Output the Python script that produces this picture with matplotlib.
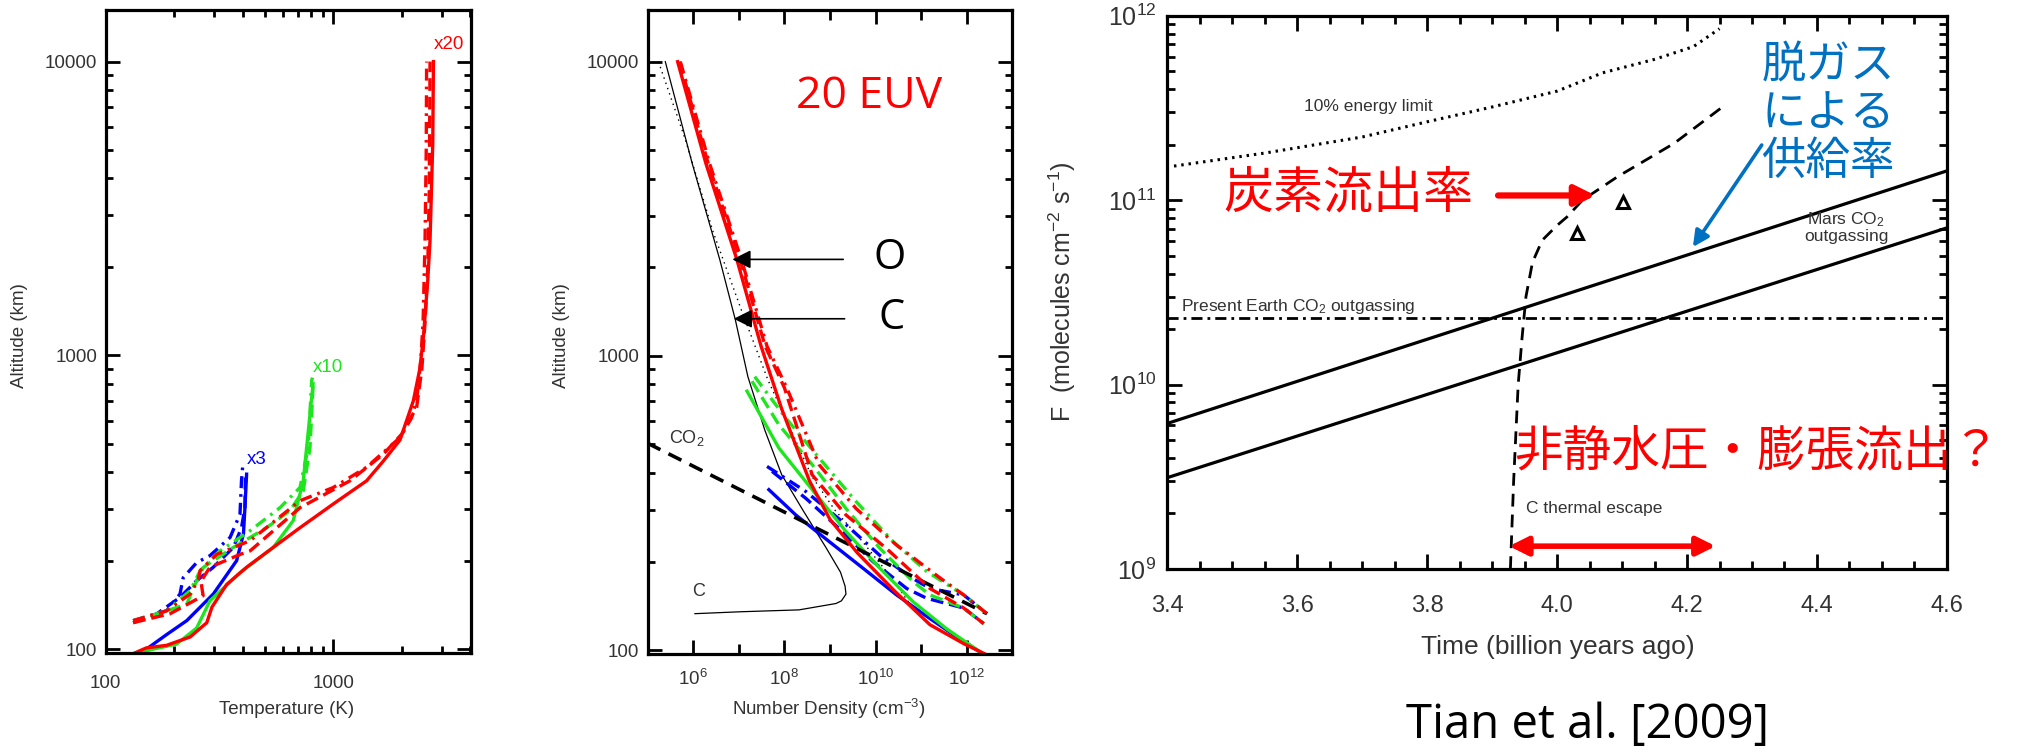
import numpy as np
import matplotlib.pyplot as plt
from matplotlib.ticker import FixedLocator, NullFormatter, FuncFormatter, MultipleLocator, LogLocator, LogFormatterSciNotation

plt.rcParams['font.family'] = ['Liberation Sans', 'Noto Sans CJK JP', 'DejaVu Sans']
plt.rcParams['mathtext.fontset'] = 'custom'
plt.rcParams['mathtext.rm'] = 'Liberation Sans'
plt.rcParams['mathtext.it'] = 'Liberation Sans:italic'
plt.rcParams['mathtext.bf'] = 'Liberation Sans:bold'

W, H = 2024, 753
RED, GREEN, BLUE = '#ff0000', '#1ee61e', '#0000ff'
GRAY = '#333333'
DASH = (0, (3.8, 1.8))
DASHDOT = (0, (3.6, 1.8, 0.8, 1.8))

# ---- 左: 温度プロファイル (T [K], 高度 [km])
T20_solid = [130, 151, 185, 235, 278, 293, 340, 416, 545, 714, 1000, 1400, 1660, 1963, 2247, 2400, 2490, 2600, 2661, 2735, 2754]
Z20_solid = [96, 101, 103, 110, 123, 139, 166, 190, 222, 259, 312, 374, 437, 515, 700, 900, 1162, 1800, 2467, 5236, 10000]
T20_dash = [132, 192, 240, 268, 262, 287, 389, 431, 714, 1183, 1660, 2000, 2323, 2450, 2530, 2600, 2640, 2661]
Z20_dash = [123, 132, 145, 152, 170, 190, 210, 216, 303, 374, 461, 540, 665, 900, 1300, 2000, 3600, 10000]
T20_dd = [132, 185, 235, 255, 260, 307, 431, 714, 1000, 1400, 1963, 2200, 2323, 2420, 2480, 2530, 2560, 2570]
Z20_dd = [125, 135, 154, 172, 185, 210, 234, 320, 355, 416, 525, 610, 702, 950, 1300, 2500, 5000, 10000]

T10_solid = [130, 162, 205, 251, 287, 389, 545, 667, 738, 790, 815]
Z10_solid = [96, 100, 104, 118, 146, 182, 222, 274, 374, 631, 800]
T10_dash = [132, 168, 227, 243, 269, 364, 509, 645, 738, 790, 817]
Z10_dash = [123, 132, 142, 162, 190, 222, 259, 296, 346, 486, 820]
T10_dd = [132, 185, 235, 260, 318, 431, 583, 714, 776, 803, 810]
Z10_dd = [125, 135, 158, 185, 216, 253, 303, 355, 486, 820, 840]

T3_solid = [151, 185, 227, 297, 376, 403, 409, 416]
Z3_solid = [100, 112, 125, 154, 200, 247, 303, 394]
T3_dash = [132, 168, 212, 251, 297, 364, 395, 409, 411]
Z3_dash = [123, 132, 150, 171, 190, 222, 259, 303, 384]
T3_dd = [132, 185, 212, 219, 251, 287, 352, 389, 395, 400]
Z3_dd = [125, 135, 154, 175, 197, 208, 240, 288, 374, 421]

# ---- 中: 数密度 (log10 n [cm-3], 高度 [km])
logn_C = [5.39, 5.98, 6.585, 6.925, 7.2, 7.57, 7.94, 8.40, 8.92, 9.23, 9.33, 9.35, 9.25, 9.13, 8.32, 7.04, 6.04]
zC = [10000, 4508, 2122, 1327, 850, 560, 395, 300, 222, 184, 165, 155, 147, 144, 137, 135, 133]
logn_dot = [5.24, 5.83, 6.43, 7.04, 7.64, 8.17, 8.6, 9.1, 9.7, 10.3, 10.8]
z_dot = [10000, 5436, 2661, 1456, 828, 548, 390, 300, 235, 180, 140]
logn_co2 = [5.0, 8.61, 12.44]
z_co2 = [505, 264, 133]

logn_r_solid = [5.66, 6.28, 6.96, 7.49, 7.94, 8.55, 9.0, 9.6, 10.43, 11.19, 11.94, 12.40]
z_r_solid = [10000, 4508, 2122, 1078, 661, 376, 278, 214, 158, 122, 105, 97]
logn_r_dash = [5.70, 6.33, 7.03, 7.58, 8.00, 8.61, 9.35, 10.23, 11.19, 11.93, 12.37]
z_r_dash = [10000, 4508, 2122, 1078, 780, 394, 288, 222, 162, 139, 123]
logn_r_dd = [5.72, 6.36, 7.06, 7.62, 8.05, 8.76, 9.57, 10.45, 11.41, 11.93, 12.44]
z_r_dd = [10000, 4508, 2122, 1078, 780, 427, 303, 228, 176, 154, 133]

logn_g_solid = [7.18, 7.88, 8.61, 9.35, 10.09, 10.82, 11.56, 12.4]
z_g_solid = [759, 486, 351, 253, 190, 146, 118, 96]
logn_g_dash = [7.29, 7.88, 8.61, 9.35, 10.09, 10.82, 11.19, 11.93, 12.37]
z_g_dash = [820, 583, 427, 303, 222, 171, 154, 139, 123]
logn_g_dd = [7.35, 8.03, 8.76, 9.57, 10.38, 11.12, 11.93, 12.44]
z_g_dd = [850, 615, 450, 320, 234, 185, 154, 133]

logn_b_solid = [7.66, 8.25, 8.98, 9.72, 10.46, 11.19, 11.93, 12.4]
z_b_solid = [351, 288, 234, 190, 154, 128, 107, 96]
logn_b_dash = [7.73, 8.47, 9.2, 9.94, 10.68, 11.12, 11.93, 12.37]
z_b_dash = [405, 328, 259, 200, 162, 150, 139, 123]
logn_b_dd = [7.62, 8.47, 9.35, 10.09, 10.82, 11.19, 11.93, 12.44]
z_b_dd = [421, 346, 267, 210, 175, 162, 154, 133]

# 矢印 (O, C): 先端と根元の log10 n, 高度
arrow_O = [6.86, 9.29, 2128]
arrow_C = [6.89, 9.32, 1337]

# ---- 右: フラックス vs 時間
energy_t = [3.41, 3.55, 3.70, 3.80, 3.90, 4.00, 4.07, 4.15, 4.21, 4.25]
energy_f = [1.53e11, 1.8e11, 2.2e11, 2.66e11, 3.2e11, 3.9e11, 4.9e11, 5.8e11, 6.8e11, 8.5e11]
escape_t = [3.928, 3.933, 3.940, 3.946, 3.952, 3.962, 3.977, 4.0, 4.015, 4.039, 4.093, 4.18, 4.252]
escape_f = [1.0e9, 3.0e9, 1.0e10, 1.8e10, 3.0e10, 4.6e10, 6.06e10, 7.3e10, 8.1e10, 1.0e11, 1.34e11, 2.03e11, 3.15e11]
mars_t = [3.4, 4.6]
mars_hi = [6.16e9, 1.44e11]
mars_lo = [3.13e9, 7.07e10]
earth_f = 2.31e10
tri_t = [4.03, 4.102]
tri_f = [6.6e10, 9.8e10]
range_t = [3.926, 4.244]
range_f = 1.33e9
red_arrow_t = [3.909, 4.059]
red_arrow_f = 1.06e11
blue_arrow = [(4.315, 1.99e11), (4.209, 5.57e10)]

fig = plt.figure(figsize=(W / 100, H / 100), dpi=100)


def box(x0, y0, x1, y1):
    return fig.add_axes([x0 / W, 1 - y1 / H, (x1 - x0) / W, (y1 - y0) / H])


def ftext(x, y, s, **kw):
    fig.text(x / W, 1 - y / H, s, **kw)


def idl_style(ax, maj=10, mnr=5):
    for s in ax.spines.values():
        s.set_linewidth(2.3)
    ax.tick_params(which='both', direction='in', top=True, right=True, width=2,
                   colors='k', labelcolor=GRAY)
    ax.tick_params(which='major', length=maj)
    ax.tick_params(which='minor', length=mnr)


alt_major = [100, 1000, 10000]
alt_minor = [m * d for d in (100, 1000) for m in range(2, 10)]

# ===== 左パネル
ax1 = box(105.7, 9.6, 471, 653)
ax1.set_xscale('log')
ax1.set_yscale('log')
lw = 2.4
ax1.plot(T3_dash, Z3_dash, color=BLUE, lw=lw, ls=DASH)
ax1.plot(T3_dd, Z3_dd, color=BLUE, lw=lw, ls=DASHDOT)
ax1.plot(T3_solid, Z3_solid, color=BLUE, lw=lw)
ax1.plot(T10_dash, Z10_dash, color=GREEN, lw=lw, ls=DASH)
ax1.plot(T10_dd, Z10_dd, color=GREEN, lw=lw, ls=DASHDOT)
ax1.plot(T10_solid, Z10_solid, color=GREEN, lw=lw)
ax1.plot(T20_dash, Z20_dash, color=RED, lw=lw, ls=DASH)
ax1.plot(T20_dd, Z20_dd, color=RED, lw=lw, ls=DASHDOT)
ax1.plot(T20_solid, Z20_solid, color=RED, lw=lw)
ax1.set_xlim(100, 4027)
ax1.set_ylim(97, 15030)
ax1.xaxis.set_major_locator(FixedLocator([100, 1000]))
ax1.xaxis.set_minor_locator(FixedLocator([200, 300, 400, 500, 600, 700, 800, 900, 2000, 3000, 4000]))
ax1.yaxis.set_major_locator(FixedLocator(alt_major))
ax1.yaxis.set_minor_locator(FixedLocator(alt_minor))
for a in (ax1.xaxis, ax1.yaxis):
    a.set_major_formatter(FuncFormatter(lambda v, p: f'{v:g}'))
    a.set_minor_formatter(NullFormatter())
idl_style(ax1)
ax1.tick_params(axis='y', labelsize=13.5, pad=6)
ax1.tick_params(axis='x', labelsize=13.5, pad=16)
ax1.text(2754, 10700, 'x20', color=RED, fontsize=13.5, ha='left', va='bottom')
ax1.text(815, 850, 'x10', color=GREEN, fontsize=13.5, ha='left', va='bottom')
ax1.text(416, 415, 'x3', color=BLUE, fontsize=13.5, ha='left', va='bottom')
ftext(20, 336, 'Altitude (km)', rotation=90, fontsize=13.5, color=GRAY, ha='center', va='center')
ftext(287, 709, 'Temperature (K)', fontsize=13.5, color=GRAY, ha='center', va='center')

# ===== 中パネル
ax2 = box(647.5, 9.6, 1012.5, 654)
ax2.set_xscale('log')
ax2.set_yscale('log')
p = lambda v: 10 ** np.array(v)
ax2.plot(p(logn_C), zC, color='k', lw=0.9)
ax2.plot(p(logn_dot), z_dot, color='k', lw=1.0, ls=(0, (1, 3)))
ax2.plot(p(logn_b_dash), z_b_dash, color=BLUE, lw=lw, ls=DASH)
ax2.plot(p(logn_b_dd), z_b_dd, color=BLUE, lw=lw, ls=DASHDOT)
ax2.plot(p(logn_b_solid), z_b_solid, color=BLUE, lw=lw)
ax2.plot(p(logn_g_dash), z_g_dash, color=GREEN, lw=lw, ls=DASH)
ax2.plot(p(logn_g_dd), z_g_dd, color=GREEN, lw=lw, ls=DASHDOT)
ax2.plot(p(logn_g_solid), z_g_solid, color=GREEN, lw=lw)
ax2.plot(p(logn_co2), z_co2, color='k', lw=2.6, ls=(0, (4, 2.5)))
ax2.plot(p(logn_r_dash), z_r_dash, color=RED, lw=lw, ls=DASH)
ax2.plot(p(logn_r_dd), z_r_dd, color=RED, lw=lw, ls=DASHDOT)
ax2.plot(p(logn_r_solid), z_r_solid, color=RED, lw=lw)
ax2.set_xlim(1e5, 1e13)
ax2.set_ylim(97, 15030)
ax2.xaxis.set_major_locator(FixedLocator([1e6, 1e8, 1e10, 1e12]))
ax2.xaxis.set_minor_locator(FixedLocator([1e7, 1e9, 1e11]))
ax2.xaxis.set_major_formatter(LogFormatterSciNotation())
ax2.xaxis.set_minor_formatter(NullFormatter())
ax2.yaxis.set_major_locator(FixedLocator(alt_major))
ax2.yaxis.set_minor_locator(FixedLocator(alt_minor))
ax2.yaxis.set_major_formatter(FuncFormatter(lambda v, p: f'{v:g}'))
ax2.yaxis.set_minor_formatter(NullFormatter())
idl_style(ax2)
ax2.tick_params(axis='x', which='minor', length=7)
ax2.tick_params(axis='y', labelsize=13.5, pad=6)
ax2.tick_params(axis='x', labelsize=13.5, pad=11)
for arr in (arrow_O, arrow_C):
    ax2.annotate('', xy=(10 ** arr[0], arr[2]), xytext=(10 ** arr[1], arr[2]),
                 arrowprops=dict(arrowstyle='-|>', color='k', lw=1.2, mutation_scale=28,
                                 shrinkA=0, shrinkB=0))
ftext(869, 97, '20 EUV', family=['Open Sans'], fontsize=32, color=RED, ha='center', va='center')
ftext(890, 258, 'O', family=['Open Sans'], fontsize=30, color='k', ha='center', va='center')
ftext(892, 318, 'C', family=['Open Sans'], fontsize=30, color='k', ha='center', va='center')
ftext(669, 438, 'CO$_2$', fontsize=13, color=GRAY, ha='left', va='center')
ftext(699, 592, 'C', fontsize=13, color=GRAY, ha='center', va='center')
ftext(562, 336, 'Altitude (km)', rotation=90, fontsize=13.5, color=GRAY, ha='center', va='center')
ftext(829, 709, 'Number Density (cm$^{-3}$)', fontsize=13.5, color=GRAY, ha='center', va='center')

# ===== 右パネル
ax3 = box(1167.5, 15.7, 1946.8, 569)
ax3.set_yscale('log')
ax3.plot(energy_t, energy_f, color='k', lw=2.2, ls=(0, (0.8, 1.6)))
ax3.plot(escape_t, escape_f, color='k', lw=2.0, ls=(0, (4.6, 2.9)))
ax3.plot(mars_t, mars_hi, color='k', lw=2.3)
ax3.plot(mars_t, mars_lo, color='k', lw=2.3)
ax3.axhline(earth_f, color='k', lw=2.0, ls=(0, (4, 1.8, 1, 1.8)))
ax3.plot(tri_t, tri_f, ls='none', marker='^', mfc='none', mec='k', mew=2.2, ms=9)
ax3.annotate('', xy=(range_t[1], range_f), xytext=(range_t[0], range_f),
             arrowprops=dict(arrowstyle='<|-|>', color=RED, lw=4, mutation_scale=28,
                             shrinkA=0, shrinkB=0))
ax3.annotate('', xy=(red_arrow_t[1], red_arrow_f), xytext=(red_arrow_t[0], red_arrow_f),
             arrowprops=dict(arrowstyle='-|>', color=RED, lw=4.5, mutation_scale=30,
                             shrinkA=0, shrinkB=0))
ax3.annotate('', xy=blue_arrow[1], xytext=blue_arrow[0],
             arrowprops=dict(arrowstyle='-|>', color='#0070c0', lw=2.6, mutation_scale=24,
                             shrinkA=0, shrinkB=0))
ax3.set_xlim(3.4, 4.6)
ax3.set_ylim(1e9, 1e12)
ax3.xaxis.set_major_locator(MultipleLocator(0.2))
ax3.xaxis.set_minor_locator(MultipleLocator(0.05))
ax3.xaxis.set_major_formatter(FuncFormatter(lambda v, p: f'{v:.1f}'))
ax3.yaxis.set_major_locator(FixedLocator([1e9, 1e10, 1e11, 1e12]))
ax3.yaxis.set_minor_locator(LogLocator(base=10, subs=np.arange(2, 10)))
ax3.yaxis.set_major_formatter(LogFormatterSciNotation())
ax3.yaxis.set_minor_formatter(NullFormatter())
idl_style(ax3, maj=11, mnr=6)
ax3.tick_params(axis='x', labelsize=17, pad=19)
ax3.tick_params(axis='y', labelsize=18, pad=8)
ftext(1368, 107, '10% energy limit', fontsize=12.5, color=GRAY, ha='center', va='center')
ftext(1846, 227, 'Mars CO$_2$\noutgassing', fontsize=12.5, color=GRAY, ha='center', va='center',
      multialignment='center', linespacing=1.0)
ftext(1181, 306, 'Present Earth CO$_2$ outgassing', fontsize=12.5, color=GRAY, ha='left', va='center')
ftext(1526, 508, 'C thermal escape', fontsize=12.5, color=GRAY, ha='left', va='center')
ftext(1062, 292, 'F  (molecules cm$^{-2}$ s$^{-1}$)', rotation=90, fontsize=18, color=GRAY,
      ha='center', va='center')
ftext(1558, 647, 'Time (billion years ago)', fontsize=19, color=GRAY, ha='center', va='center')

cjk = ['Noto Sans CJK JP', 'DejaVu Sans']
ftext(1348, 193, '炭素流出率', family=cjk, fontsize=36, color=RED, ha='center', va='center')
ftext(1828, 113, '脱ガス\nによる\n供給率', family=cjk, fontsize=32, color='#0070c0',
      ha='center', va='center', linespacing=1.05)
ftext(1514, 452, '非静水圧・膨張流出？', family=cjk, fontsize=35, color=RED, ha='left', va='center')
ftext(1588, 725, 'Tian et al. [2009]', family=['Open Sans'], fontsize=34, color='k',
      ha='center', va='center')

fig.savefig('out.png', dpi=100)
